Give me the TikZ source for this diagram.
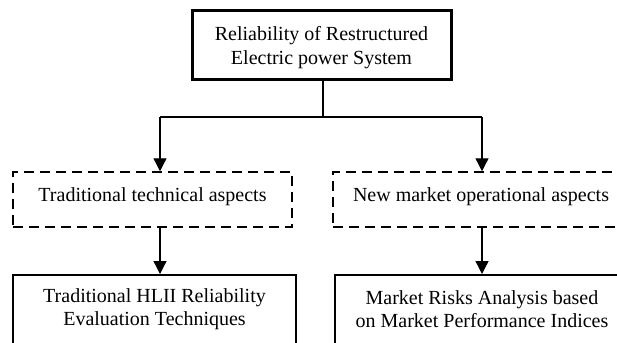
\documentclass[tikz,border=0pt]{standalone}
\usepackage{fontspec}
\setmainfont{Liberation Serif}
\usetikzlibrary{arrows.meta}
\begin{document}
\begin{tikzpicture}[x=1pt,y=-1pt,
  txt/.style={font=\fontsize{20}{23}\selectfont, align=center},
  topbox/.style={draw, line width=3pt, minimum width=259pt, minimum height=69pt},
  dashbox/.style={draw, line width=1.5pt, dash pattern=on 10pt off 6pt, minimum height=55pt},
  solidbox/.style={draw, line width=1.5pt, minimum height=100pt},
  link/.style={line width=1.3pt},
  arrow/.style={link, -{Triangle[length=13pt,width=13pt]}}]
\useasboundingbox (0,0) rectangle (617,342);
\clip (0,0) rectangle (617,342);
\fill[white] (0,0) rectangle (617,342);
% root of the tree
\node[topbox] (root) at (321.5,45.5) {};
\node[txt, font=\fontsize{20}{24}\selectfont] (roottxt) at (321.5,47.5)
  {Reliability of Restructured\\Electric power System};
% second level: the two groups of aspects
\node[dashbox, minimum width=279pt] (tech) at (152.5,199.5) {};
\node[txt] (techtxt) at (152.5,197) {Traditional technical aspects};
\node[dashbox, minimum width=296pt] (market) at (481,199.5) {};
\node[txt] (markettxt) at (481,197) {New market operational aspects};
% third level: the evaluation approaches (boxes run past the lower edge)
\node[solidbox, minimum width=283pt, anchor=north] (hlii) at (154.5,274) {};
\node[txt] (hliitxt) at (154.5,309) {Traditional HLII Reliability\\Evaluation Techniques};
\node[solidbox, minimum width=294pt, anchor=north] (risk) at (482,274) {};
\node[txt] (risktxt) at (482,309) {Market Risks Analysis based\\on Market Performance Indices};
% connectors
\coordinate (split) at (323,117);
\coordinate (lsplit) at (160,117);
\coordinate (rsplit) at (482,117);
\draw[link] (split |- root.south) -- (split);
\draw[link] (lsplit) -- (rsplit);
\draw[arrow] (lsplit) -- (lsplit |- tech.north);
\draw[arrow] (rsplit) -- (rsplit |- market.north);
\draw[arrow] (lsplit |- tech.south) -- (lsplit |- hlii.north);
\draw[arrow] (rsplit |- market.south) -- (rsplit |- risk.north);
\end{tikzpicture}
\end{document}
